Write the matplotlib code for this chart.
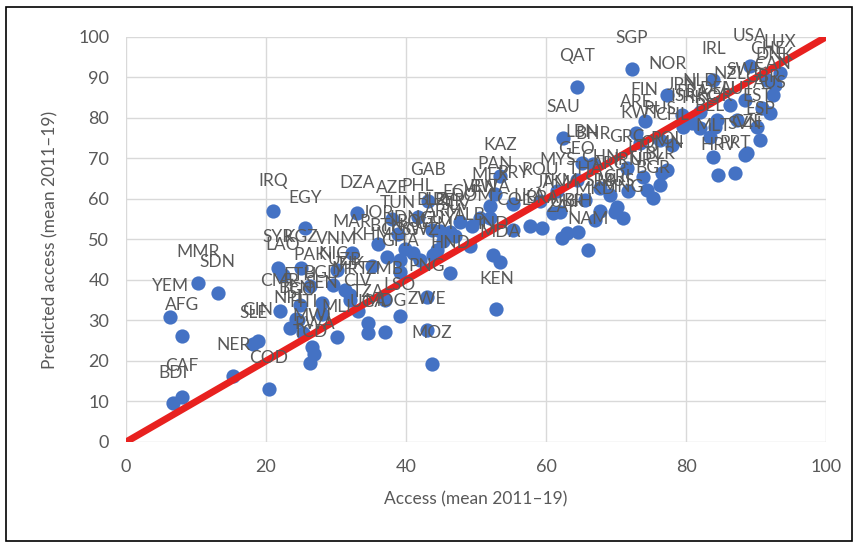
import matplotlib
matplotlib.use("Agg")
import matplotlib.pyplot as plt
from matplotlib.patches import Rectangle

plt.rcParams['font.family'] = ['Lato', 'DejaVu Sans']

# country codes, access (mean 2011-19) and predicted access
codes = ["BDI", "CAF", "YEM", "AFG", "MMR", "SDN", "NER", "SLE", "GIN", "COD",
         "IRQ", "EGY", "DZA", "SYR", "LAO", "KGZ", "VNM", "PAK", "NIC", "BGD",
         "TJK", "CMR", "BEN", "SEN", "CIV", "TZA", "NPL", "HTI", "MLI", "UGA",
         "LSO", "ZWE", "MDG", "MWI", "RWA", "TCD", "ETH", "TGO", "MRT", "MOZ",
         "KEN", "ZMB", "PNG", "KHM", "GHA", "GTM", "HND", "BOL", "UZB", "JOR",
         "MAR", "BTN", "IDN", "TUN", "AZE", "GAB", "LBY", "DOM", "ALB", "ARM",
         "SLV", "PHL", "BLZ", "PER", "ECU", "GUY", "SWZ", "COG", "KAZ", "PAN",
         "MEX", "PRY", "BWA", "ROU", "LKA", "MDA", "IND", "COL", "BRA", "JAM",
         "ZAF", "TKM", "UKR", "NAM", "MYS", "THA", "GEO", "LBN", "BHR", "SAU",
         "QAT", "CHN", "BIH", "MNG", "SRB", "CRI", "BGR", "IRN", "GRC", "OMN",
         "LTU", "BLR", "URY", "MKD", "ARG", "MUS", "VEN", "RUS", "CHL", "ISR",
         "POL", "JPN", "NOR", "SGP", "FIN", "ARE", "KWT", "NLD", "FRA", "IRL",
         "KOR", "DEU", "BEL", "MLT", "HRV", "PRT", "SVN", "ESP", "EST", "GBR",
         "AUS", "CAN", "CHE", "LUX", "USA", "DNK", "CZE", "AUT", "SWE", "NZL",
         "HKG"]

access = [6.7, 8.0, 6.3, 8.0, 10.3, 13.1, 15.3, 18.2, 18.8, 20.4,
          21.0, 25.6, 33.0, 21.7, 22.4, 25.0, 30.1, 26.3, 29.6, 28.0,
          32.0, 22.0, 24.3, 28.0, 33.1, 34.6, 23.4, 25.3, 30.1, 34.6,
          39.1, 43.0, 37.0, 26.6, 26.9, 26.3, 24.9, 24.6, 32.0, 43.7,
          52.9, 37.0, 43.0, 35.1, 39.1, 43.9, 46.3, 41.0, 31.3, 36.0,
          32.3, 37.3, 39.9, 38.9, 38.0, 43.1, 44.9, 49.4, 49.1, 45.3,
          47.0, 41.7, 43.7, 46.3, 47.7, 44.4, 42.0, 39.1, 53.4, 52.7,
          52.0, 55.3, 52.0, 59.1, 57.7, 53.4, 52.4, 55.3, 59.4, 61.0,
          62.3, 62.0, 63.0, 66.0, 61.6, 65.6, 64.4, 65.1, 66.7, 62.4,
          64.4, 67.7, 64.6, 71.0, 67.7, 70.1, 75.3, 71.7, 71.6, 76.6,
          73.9, 76.3, 74.4, 67.0, 69.1, 69.9, 50.6, 76.3, 78.0, 79.6,
          77.3, 79.4, 77.3, 72.3, 74.1, 72.9, 73.4, 82.0, 80.9, 83.9,
          84.1, 84.4, 83.4, 83.9, 84.6, 87.0, 88.4, 90.6, 90.1, 90.9,
          92.0, 92.4, 91.6, 93.4, 89.1, 92.7, 88.7, 87.3, 88.4, 86.3,
          82.0]

predicted = [9.6, 11.1, 30.9, 26.2, 39.3, 36.8, 16.3, 24.2, 25.0, 13.1,
             57.0, 52.8, 56.5, 43.0, 41.2, 43.0, 42.5, 38.5, 38.8, 34.3,
             36.3, 32.3, 30.4, 31.6, 32.3, 29.4, 28.1, 26.9, 25.9, 26.9,
             31.1, 27.7, 27.2, 23.5, 21.7, 19.5, 33.8, 30.1, 35.1, 19.3,
             32.8, 35.1, 35.8, 43.5, 42.0, 46.2, 41.7, 46.7, 37.5, 48.9,
             46.7, 45.7, 47.7, 51.4, 55.1, 59.5, 52.1, 53.3, 48.4, 49.6,
             50.9, 55.6, 52.3, 51.9, 54.3, 47.4, 44.9, 44.9, 65.7, 61.2,
             58.3, 58.8, 55.3, 59.5, 53.3, 44.4, 46.2, 52.3, 52.8, 56.5,
             50.4, 56.8, 51.6, 47.4, 62.0, 59.8, 64.7, 68.9, 68.6, 75.1,
             87.7, 62.7, 51.9, 55.3, 57.0, 58.0, 60.2, 62.0, 67.7, 66.4,
             65.4, 63.5, 62.2, 54.8, 61.0, 56.8, 55.3, 74.6, 73.3, 77.8,
             67.2, 80.7, 85.7, 92.1, 79.3, 76.3, 73.8, 81.5, 78.8, 89.4,
             77.8, 79.5, 75.3, 70.4, 65.9, 66.4, 70.9, 74.6, 77.8, 82.5,
             81.2, 85.7, 89.4, 91.1, 92.8, 88.1, 71.4, 79.5, 84.4, 83.2,
             77.5]

fig = plt.figure(figsize=(8.59, 5.47), dpi=100)
ax = fig.add_axes([0.1467, 0.192, 0.8149, 0.7404])

ax.scatter(access, predicted, s=105, color='#4472C4', zorder=3, linewidths=0)
ax.plot([0, 100], [0, 100], color='#E8211F', lw=5, solid_capstyle='butt', zorder=4)

for c, x, y in zip(codes, access, predicted):
    ax.annotate(c, (x, y), xytext=(0, 22), textcoords='offset points',
                ha='center', va='center', fontsize=12.5, color='#595959', zorder=5)

ax.set_xlim(0, 100)
ax.set_ylim(0, 100)
ax.set_xticks(range(0, 101, 20))
ax.set_yticks(range(0, 101, 10))
ax.grid(color='#D9D9D9', lw=1)
ax.set_axisbelow(True)
for s in ax.spines.values():
    s.set_visible(False)
ax.tick_params(length=0, labelsize=13, colors='#595959', pad=12)
ax.set_xlabel("Access (mean 2011–19)", fontsize=12.5, color='#595959', labelpad=12)
ax.set_ylabel("Predicted access (mean 2011–19)", fontsize=12.5, color='#595959', labelpad=14)

fig.patches.append(Rectangle((0.007, 0.011), 0.985, 0.976, transform=fig.transFigure,
                             fill=False, edgecolor='black', lw=1.2))

fig.savefig("out.png", dpi=100)
